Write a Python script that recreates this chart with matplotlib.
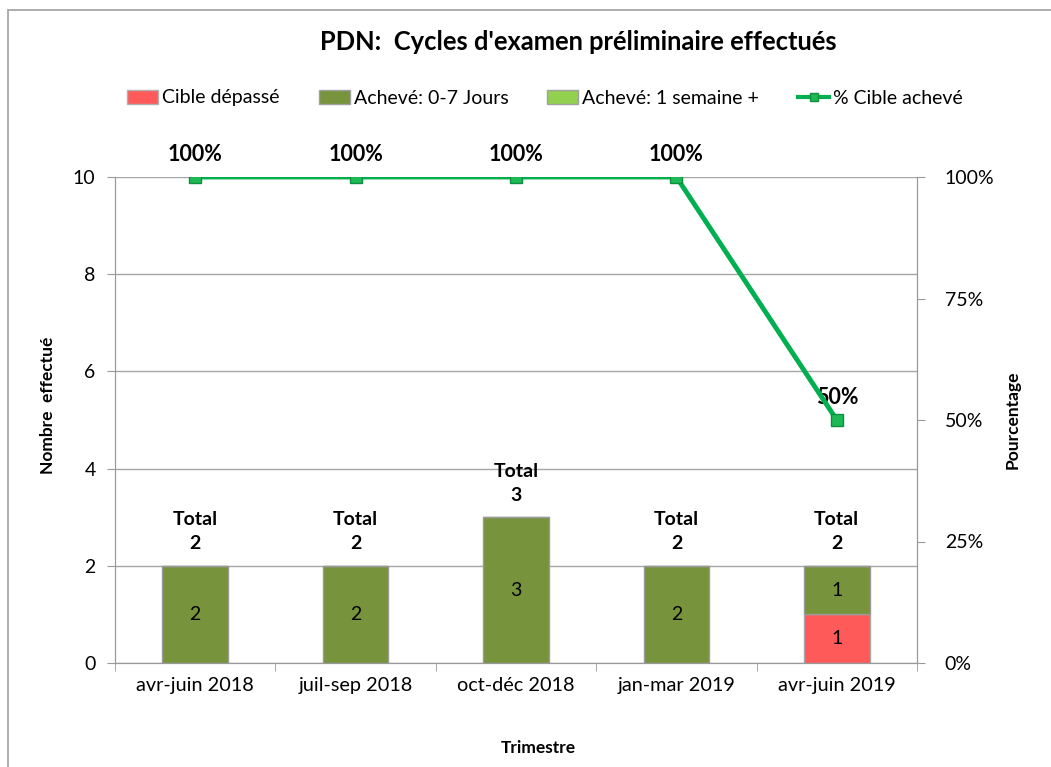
import matplotlib.pyplot as plt
import matplotlib.patches as mpatches
from matplotlib.lines import Line2D
import numpy as np

plt.rcParams['font.family'] = ['Lato', 'DejaVu Sans']

trimestres = ["avr-juin 2018", "juil-sep 2018", "oct-déc 2018", "jan-mar 2019", "avr-juin 2019"]
cible_depasse = [0, 0, 0, 0, 1]
acheve_0_7 = [2, 2, 3, 2, 1]
acheve_semaine = [0, 0, 0, 0, 0]
pct_acheve = [100, 100, 100, 100, 50]

rouge = "#FF5A5A"
vert_fonce = "#77933C"
vert_clair = "#92D050"
vert_ligne = "#00B050"

fig = plt.figure(figsize=(10.51, 7.67), dpi=100)
# cadre du graphique
fig.add_artist(mpatches.Rectangle((8 / 1051, -0.1), 1.1, 1 - 10 / 767 + 0.1,
                                  transform=fig.transFigure, fill=False,
                                  edgecolor="#A0A0A0", lw=1.2))

ax = fig.add_axes([115 / 1051, 104 / 767, 802 / 1051, 486 / 767])
x = np.arange(len(trimestres))
w = 0.41

bas = np.array(cible_depasse)
mid = bas + np.array(acheve_0_7)
total = mid + np.array(acheve_semaine)

ax.bar(x, cible_depasse, w, color=rouge, edgecolor="#A8A8A8", lw=1, zorder=3)
ax.bar(x, acheve_0_7, w, bottom=bas, color=vert_fonce, edgecolor="#9A9A9A", lw=1, zorder=3)
ax.bar(x, acheve_semaine, w, bottom=mid, color=vert_clair, edgecolor="#9A9A9A", lw=1, zorder=3)

for i in range(len(x)):
    if cible_depasse[i]:
        ax.text(x[i], cible_depasse[i] / 2, str(cible_depasse[i]), ha="center", va="center",
                fontsize=14, zorder=4)
    if acheve_0_7[i]:
        ax.text(x[i], bas[i] + acheve_0_7[i] / 2, str(acheve_0_7[i]), ha="center", va="center",
                fontsize=14, zorder=4)
    ax.text(x[i], total[i] + 0.28, "Total\n" + str(total[i]), ha="center", va="bottom",
            fontsize=14, fontweight="bold", linespacing=1.5, zorder=4)

ax.set_xlim(-0.5, len(x) - 0.5)
ax.set_ylim(0, 10)
ax.set_yticks(range(0, 11, 2))
ax.set_xticks(x)
ax.set_xticklabels(trimestres, fontsize=14.3)
ax.set_xticks(np.arange(-0.5, len(x), 1), minor=True)
ax.tick_params(axis="x", which="major", length=0, pad=10)
ax.tick_params(axis="x", which="minor", length=6, color="#999999")
ax.tick_params(axis="y", labelsize=14, length=6, color="#999999", pad=8)
ax.grid(axis="y", color="#A6A6A6", lw=1, zorder=0)
for s in ax.spines.values():
    s.set_color("#999999")
ax.spines["top"].set_visible(False)
ax.set_ylabel("Nombre  effectué", fontsize=12.5, fontweight="bold")
ax.yaxis.set_label_coords((56 - 115) / 802, (767 - 104 - 405) / 486)
ax.set_xlabel("Trimestre", fontsize=12.5, fontweight="bold")
ax.xaxis.set_label_coords((538 - 115) / 802, -(740 - 663) / 486)

ax2 = ax.twinx()
ax2.plot(x, pct_acheve, color=vert_ligne, lw=3.5, marker="s", markersize=8,
         markerfacecolor="#1DB954", markeredgecolor="#0E8F3E", zorder=5)
for i in range(len(x)):
    ax2.text(x[i], pct_acheve[i] + 2.5, f"{pct_acheve[i]}%", ha="center", va="bottom",
             fontsize=15.5, fontweight="bold")
ax2.set_ylim(0, 100)
ax2.set_yticks([0, 25, 50, 75, 100])
ax2.set_yticklabels(["0%", "25%", "50%", "75%", "100%"])
ax2.tick_params(axis="y", labelsize=14, length=6, color="#999999", pad=14)
for s in ax2.spines.values():
    s.set_color("#999999")
ax2.spines["top"].set_visible(False)
ax2.set_ylabel("Pourcentage", fontsize=12.5, fontweight="bold")
ax2.yaxis.set_label_coords((1005 - 115) / 802, 0.5)

fig.text(578 / 1051, 1 - 42 / 767, "PDN:  Cycles d'examen préliminaire effectués",
         ha="center", va="center", fontsize=18.4, fontweight="bold")

handles = [
    mpatches.Patch(facecolor=rouge, edgecolor="#B0B0B0", label="Cible dépassé"),
    mpatches.Patch(facecolor=vert_fonce, edgecolor="#A0A0A0", label="Achevé: 0-7 Jours"),
    mpatches.Patch(facecolor=vert_clair, edgecolor="#A0A0A0", label="Achevé: 1 semaine +"),
    Line2D([0], [0], color=vert_ligne, lw=3, marker="s", markersize=6,
           markerfacecolor="#1DB954", markeredgecolor="#0E8F3E", label="% Cible achevé"),
]
fig.legend(handles=handles, loc="center", bbox_to_anchor=(545 / 1051, 1 - 98 / 767),
           ncol=4, frameon=False, fontsize=14, handlelength=1.6, handletextpad=0.2,
           columnspacing=2.0, handleheight=0.7, borderpad=0)

fig.savefig("out.png", dpi=100)
